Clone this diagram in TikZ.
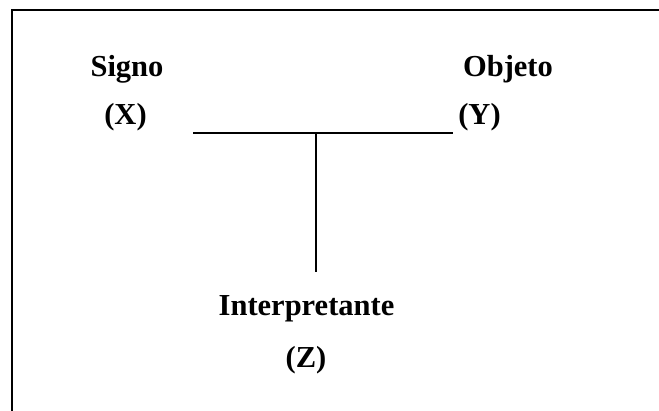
\documentclass[tikz,border=0pt]{standalone}
\usepackage{fontspec}
\setmainfont{Liberation Serif}
\begin{document}
\begin{tikzpicture}[x=1pt,y=-1pt,
  lbl/.style={anchor=base,inner sep=0pt,font=\fontsize{30.5}{36}\selectfont\bfseries},
  frameline/.style={line width=2pt,line cap=rect},
  tline/.style={line width=1.3pt}]
\useasboundingbox (0,0) rectangle (659,411);
% frame (top and left only)
\coordinate (fbl) at (12,412);
\coordinate (ftl) at (12,10);
\coordinate (ftr) at (660,10);
\draw[frameline] (fbl) -- (ftl) -- (ftr);
% labels
\node[lbl] (signo) at (127,77) {Signo};
\node[lbl] (x) at (125.5,125) {(X)};
\node[lbl] (objeto) at (508,77) {Objeto};
\node[lbl] (y) at (479.5,125) {(Y)};
\node[lbl] (interp) at (306.5,316) {Interpretante};
\node[lbl] (z) at (306,368) {(Z)};
% T connector
\coordinate (hl) at (193,133);
\coordinate (hr) at (453,133);
\coordinate (vt) at (316,133);
\coordinate (vb) at (316,272);
\draw[tline] (hl) -- (hr);
\draw[tline] (vt) -- (vb);
\end{tikzpicture}
\end{document}
